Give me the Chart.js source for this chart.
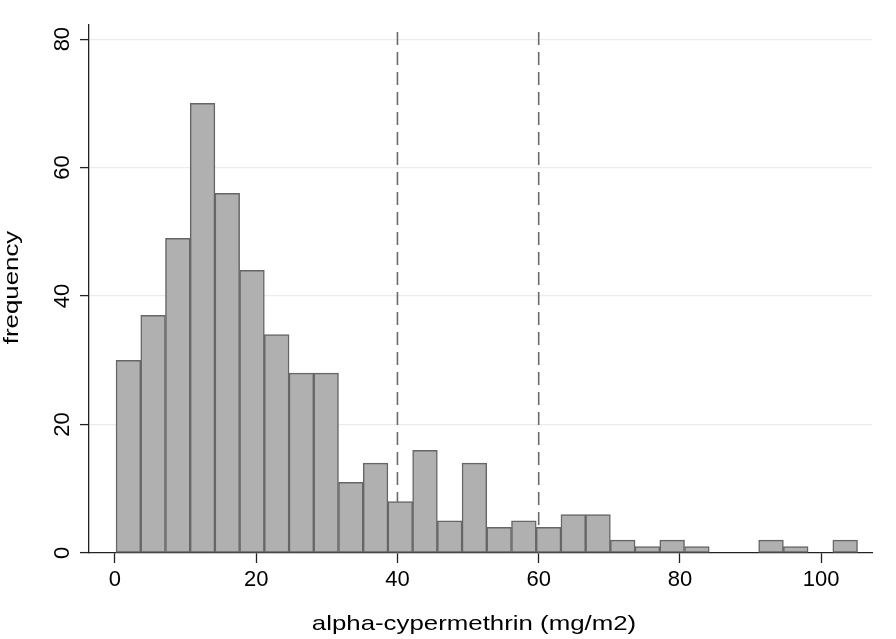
<!DOCTYPE html>
<html><head><meta charset="utf-8">
<script src="https://cdn.jsdelivr.net/npm/chart.js@4"></script>
<style>html,body{margin:0;padding:0;background:#fff}</style>
</head><body>
<canvas id="c" width="896" height="639"></canvas>
<script>
// ---- data ----
const binStart = 0.15;          // left edge of first bin (mg/m2)
const binWidth = 3.5;           // bin width (mg/m2)
const counts = [30,37,49,70,56,44,34,28,28,11,14,8,16,5,14,4,5,4,6,6,2,1,2,1,0,0,2,1,0,2];
const xTicks = [0,20,40,60,80,100];
const yTicks = [0,20,40,60,80];
const refLines = [40,60];
const xRange = [-3.68, 107.2];
const yRange = [0, 82.2];
const xTitle = 'alpha-cypermethrin (mg/m2)';
const yTitle = 'frequency';

const FONT = '"Liberation Sans", Arial, Helvetica, sans-serif';

const barData = counts.map((c, i) => ({ x: binStart + binWidth * (i + 0.5), y: c }));
const lineSets = refLines.map(v => ({
  type: 'line',
  data: [{ x: v, y: yRange[1] }, { x: v, y: yRange[0] }],
  borderColor: '#6a6a6a',
  borderWidth: 1.6,
  borderDash: [13, 7],
  borderDashOffset: 13,
  pointRadius: 0,
  fill: false,
  tension: 0
}));

const titlePlugin = {
  id: 'titles',
  afterDraw(chart) {
    const ctx = chart.ctx;
    ctx.save();
    ctx.font = '21px ' + FONT;
    ctx.fillStyle = '#000';
    ctx.textAlign = 'center';
    ctx.textBaseline = 'alphabetic';
    ctx.translate(474, 630);
    ctx.scale(1.23, 1);
    ctx.fillText(xTitle, 0, 0);
    ctx.restore();
    ctx.save();
    ctx.font = '21px ' + FONT;
    ctx.fillStyle = '#000';
    ctx.textAlign = 'center';
    ctx.textBaseline = 'alphabetic';
    ctx.translate(18, 287.5);
    ctx.rotate(-Math.PI / 2);
    ctx.scale(1.23, 1);
    ctx.fillText(yTitle, 0, 0);
    ctx.restore();
  }
};

new Chart(document.getElementById('c'), {
  type: 'bar',
  data: {
    datasets: [{
      type: 'bar',
      data: barData,
      backgroundColor: '#b0b0b0',
      borderColor: '#666666',
      borderWidth: 1.5,
      borderSkipped: false,
      barPercentage: 1,
      categoryPercentage: 1
    }, ...lineSets]
  },
  options: {
    responsive: false,
    animation: false,
    devicePixelRatio: 1,
    layout: { padding: { top: 25, right: 24, left: 0, bottom: 0 } },
    plugins: { legend: { display: false }, tooltip: { enabled: false } },
    scales: {
      x: {
        type: 'linear',
        offset: false,
        min: xRange[0], max: xRange[1],
        afterBuildTicks: s => { s.ticks = xTicks.map(v => ({ value: v })); },
        afterFit: s => { s.height = 86; },
        grid: { offset: false, drawOnChartArea: false, color: '#222', tickColor: '#222', tickLength: 10, tickWidth: 1.3 },
        border: { color: '#222', width: 1.3 },
        ticks: { font: { size: 22, family: FONT }, color: '#000', padding: 4, autoSkip: false, maxRotation: 0, minRotation: 0 }
      },
      y: {
        type: 'linear',
        min: yRange[0], max: yRange[1],
        afterBuildTicks: s => { s.ticks = yTicks.map(v => ({ value: v })); },
        afterFit: s => { s.width = 89; },
        grid: {
          color: c => (c.tick && c.tick.value === 0) ? 'rgba(0,0,0,0)' : '#ebebeb',
          lineWidth: 1.2,
          tickColor: '#222', tickLength: 9, tickWidth: 1.3
        },
        border: { color: '#222', width: 1.3 },
        ticks: { font: { size: 22, family: FONT }, color: '#000', padding: 5, autoSkip: false, minRotation: 90, maxRotation: 90, crossAlign: 'center' }
      }
    }
  },
  plugins: [titlePlugin]
});
</script>
</body></html>
